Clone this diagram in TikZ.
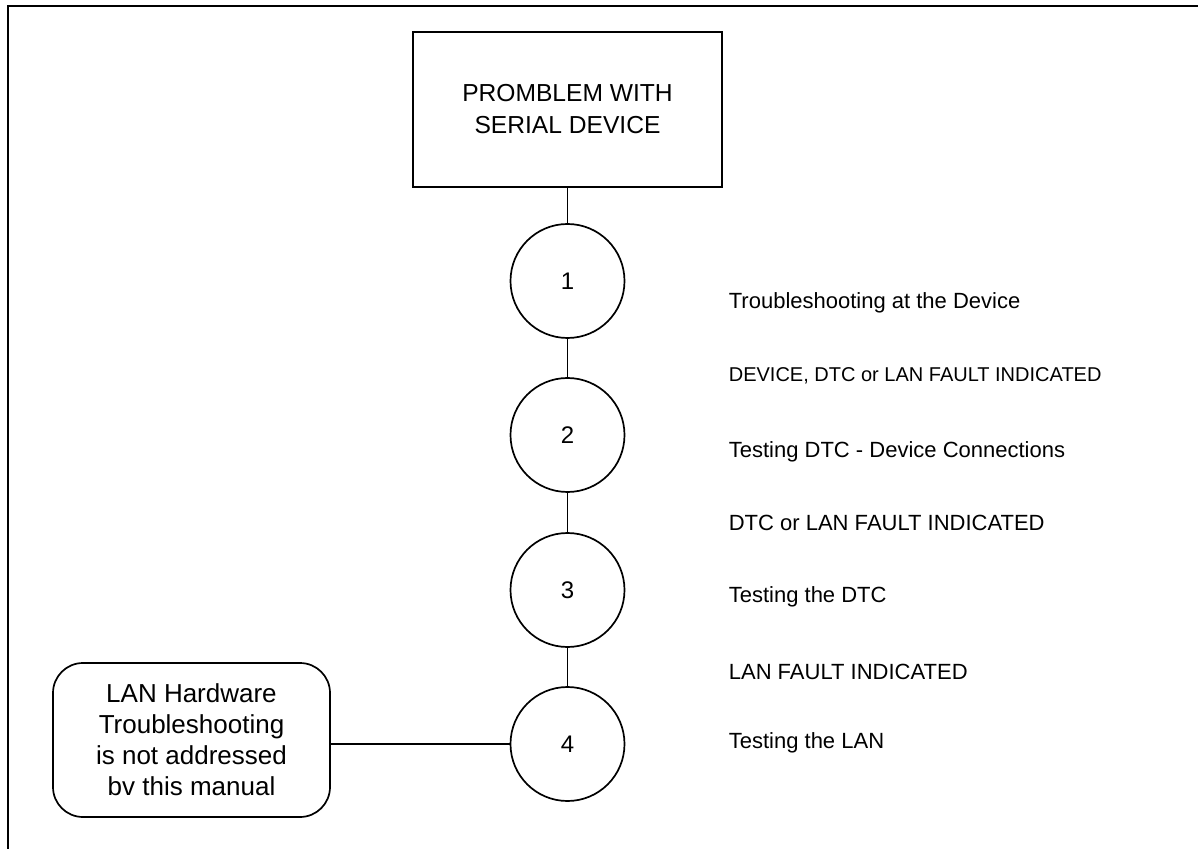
\documentclass[tikz,border=0pt]{standalone}
\usepackage{fontspec}
\setmainfont{Liberation Sans}
\usepackage{tikz}
\usetikzlibrary{calc,positioning}

\tikzset{
	probbox/.style={draw, line width=.85pt, minimum width=154.5pt, minimum height=77.5pt, align=center, font=\fontsize{12.3}{16}\selectfont},
	stage/.style={draw, circle, line width=.85pt, minimum size=57pt, inner sep=0pt, font=\fontsize{12}{14}\selectfont},
	notebox/.style={draw, rounded corners=15pt, line width=.85pt, minimum width=138.5pt, minimum height=77pt, align=center, font=\fontsize{13}{15.5}\selectfont},
	lbl/.style={anchor=west, inner sep=0pt, font=\fontsize{11}{13}\selectfont},
}

\begin{document}
\begin{tikzpicture}[x=.5pt,y=-.5pt,line width=.85pt]
			\useasboundingbox (0,0) rectangle (1198,849);
			\draw (8,849) -- (8,6) -- (1198,6);

			\node[probbox] (prob) at (567.5,109.5) {PROMBLEM WITH\\SERIAL DEVICE};
			\node[stage] (c1) at (567.5,281) {1};
			\node[stage] (c2) at (567.5,435) {2};
			\node[stage] (c3) at (567.5,590) {3};
			\node[stage] (c4) at (567.5,744) {4};
			\node[notebox] (lan) at (191.5,740) {LAN Hardware\\Troubleshooting\\is not addressed\\bv this manual};

			\draw (prob) -- (c1) -- (c2) -- (c3) -- (c4);
			\draw (c4.west) -- (c4.west -| lan.east);

			\node[lbl] (t1) at (728,303) {Troubleshooting at the Device};
			\node[lbl, font=\fontsize{10}{12}\selectfont] (f1) at (728,376) {DEVICE, DTC or LAN FAULT INDICATED};
			\node[lbl] (t2) at (728,452) {Testing DTC - Device Connections};
			\node[lbl] (f2) at (728,523) {DTC or LAN FAULT INDICATED};
			\node[lbl] (t3) at (728,597) {Testing the DTC};
			\node[lbl] (f3) at (728,672) {LAN FAULT INDICATED};
			\node[lbl] (t4) at (728,743) {Testing the LAN};
		\end{tikzpicture}
\end{document}
